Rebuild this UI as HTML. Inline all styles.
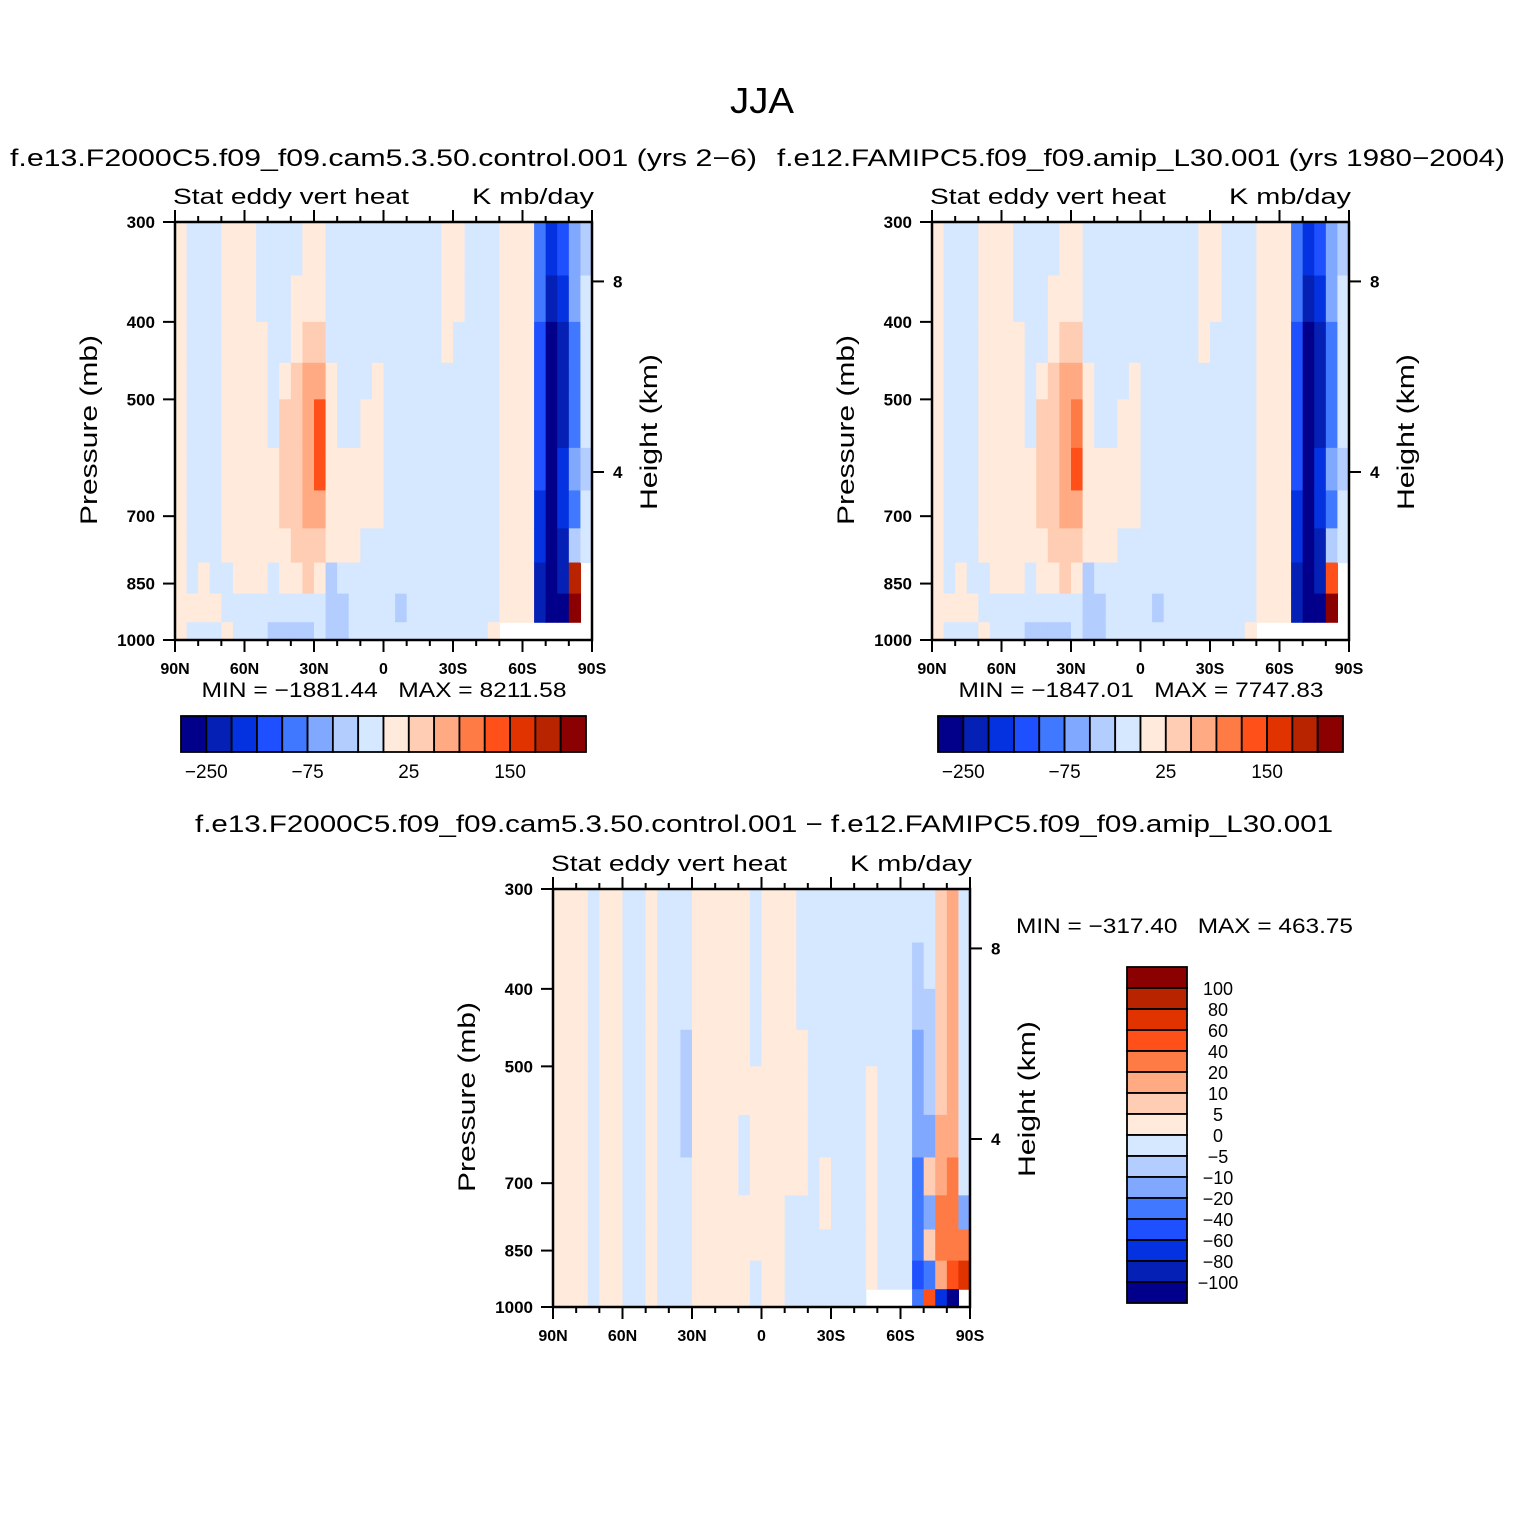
<!DOCTYPE html>
<html><head><meta charset="utf-8"><style>
html,body{margin:0;padding:0;background:#fff;}
svg{display:block;font-family:"Liberation Sans",sans-serif;}
</style></head><body>
<svg id="fig" width="1524" height="1524" viewBox="0 0 1524 1524" xmlns="http://www.w3.org/2000/svg">
<rect width="1524" height="1524" fill="#fff"/>
<text x="762" y="113" font-size="36" text-anchor="middle" textLength="64" lengthAdjust="spacingAndGlyphs">JJA</text>
<text x="10" y="166" font-size="24" textLength="747" lengthAdjust="spacingAndGlyphs">f.e13.F2000C5.f09_f09.cam5.3.50.control.001 (yrs 2−6)</text>
<text x="777" y="166" font-size="24" textLength="728" lengthAdjust="spacingAndGlyphs">f.e12.FAMIPC5.f09_f09.amip_L30.001 (yrs 1980−2004)</text>
<text x="195" y="832" font-size="24" textLength="1138" lengthAdjust="spacingAndGlyphs">f.e13.F2000C5.f09_f09.cam5.3.50.control.001 − f.e12.FAMIPC5.f09_f09.amip_L30.001</text>
<g id="panels"></g>
</svg>
<script>
const colors=['#02008a','#0520b5','#0532e0','#1e50ff','#4078ff','#80a8ff','#b3cdff','#d6e8ff','#ffeadb','#ffcdb3','#ffaa82','#ff7b45','#ff5019','#e03300','#b82300','#8b0000'];
const levelsTop=[-250,-200,-150,-100,-75,-50,-25,0,25,50,75,100,150,200,250];
const levelsDiff=[-100,-80,-60,-40,-20,-10,-5,0,5,10,20,40,60,80,100];
const barLabelsTop=['−250','−75','25','150'];
const barLabelEdges=[1,5,9,13];
const latTicks=[90,60,30,0,-30,-60,-90];
const latTickLabels=['90N','60N','30N','0','30S','60S','90S'];
const pressureTicks=[300,400,500,700,850,1000];
const heightTicks=[8,4];
const rowEdges=[300,350,400,450,500,575,650,725,800,875,950,1000];
const colLats=[90,85,80,75,70,65,60,55,50,45,40,35,30,25,20,15,10,5,0,-5,-10,-15,-20,-25,-30,-35,-40,-45,-50,-55,-60,-65,-70,-75,-80,-85,-90];
const N=NaN;
const fieldA=[
[10,10,10,10,10,10,10,10,10,10,10],
[-10,-10,-10,-10,-10,-10,-10,-10,-10,10,-10],
[-10,-10,-10,-10,-10,-10,-10,-10,10,10,-10],
[-10,-10,-10,-10,-10,-10,-10,-10,-10,10,-10],
[10,10,10,10,10,10,10,10,-10,-10,10],
[10,10,10,10,10,10,10,10,10,-10,-10],
[10,10,10,10,10,10,10,10,10,-10,-10],
[-10,-10,10,10,10,10,10,10,10,-10,-10],
[-10,-10,-10,-10,-10,10,10,10,-10,-10,-40],
[-10,-10,-10,10,40,40,40,10,10,-10,-40],
[-10,10,10,40,40,40,40,40,10,-10,-40],
[10,10,40,60,60,60,60,40,40,-10,-40],
[10,10,40,60,120,120,60,40,10,-10,-10],
[-10,-10,-10,10,10,10,10,10,-40,-40,-40],
[-10,-10,-10,-10,-10,10,10,10,-10,-40,-40],
[-10,-10,-10,-10,-10,10,10,10,-10,-10,-10],
[-10,-10,-10,-10,10,10,10,-10,-10,-10,-10],
[-10,-10,-10,10,10,10,10,-10,-10,-10,-10],
[-10,-10,-10,-10,-10,-10,-10,-10,-10,-10,-10],
[-10,-10,-10,-10,-10,-10,-10,-10,-10,-40,-10],
[-10,-10,-10,-10,-10,-10,-10,-10,-10,-10,-10],
[-10,-10,-10,-10,-10,-10,-10,-10,-10,-10,-10],
[-10,-10,-10,-10,-10,-10,-10,-10,-10,-10,-10],
[10,10,10,-10,-10,-10,-10,-10,-10,-10,-10],
[10,10,-10,-10,-10,-10,-10,-10,-10,-10,-10],
[-10,-10,-10,-10,-10,-10,-10,-10,-10,-10,-10],
[-10,-10,-10,-10,-10,-10,-10,-10,-10,-10,-10],
[-10,-10,-10,-10,-10,-10,-10,-10,-10,-10,10],
[10,10,10,10,10,10,10,10,10,10,N],
[10,10,10,10,10,10,10,10,10,10,N],
[10,10,10,10,10,10,10,10,10,10,N],
[-90,-90,-120,-120,-120,-120,-170,-170,-220,-220,N],
[-170,-220,-300,-300,-300,-300,-300,-300,-300,-300,N],
[-120,-170,-220,-220,-220,-170,-170,-220,-220,-300,N],
[-60,-60,-90,-90,-90,-60,-90,-40,220,300,N],
[-40,-10,-10,-10,-10,-40,-10,-10,N,N,N]];
const fieldB=[
[10,10,10,10,10,10,10,10,10,10,10],
[-10,-10,-10,-10,-10,-10,-10,-10,-10,10,-10],
[-10,-10,-10,-10,-10,-10,-10,-10,10,10,-10],
[-10,-10,-10,-10,-10,-10,-10,-10,-10,10,-10],
[10,10,10,10,10,10,10,10,-10,-10,10],
[10,10,10,10,10,10,10,10,10,-10,-10],
[10,10,10,10,10,10,10,10,10,-10,-10],
[-10,-10,10,10,10,10,10,10,10,-10,-10],
[-10,-10,-10,-10,-10,10,10,10,-10,-10,-40],
[-10,-10,-10,10,40,40,40,10,10,-10,-40],
[-10,10,10,40,40,40,40,40,10,-10,-40],
[10,10,40,60,60,60,60,40,40,-10,-40],
[10,10,40,60,90,120,60,40,10,-10,-10],
[-10,-10,-10,10,10,10,10,10,-40,-40,-40],
[-10,-10,-10,-10,-10,10,10,10,-10,-40,-40],
[-10,-10,-10,-10,-10,10,10,10,-10,-10,-10],
[-10,-10,-10,-10,10,10,10,-10,-10,-10,-10],
[-10,-10,-10,10,10,10,10,-10,-10,-10,-10],
[-10,-10,-10,-10,-10,-10,-10,-10,-10,-10,-10],
[-10,-10,-10,-10,-10,-10,-10,-10,-10,-40,-10],
[-10,-10,-10,-10,-10,-10,-10,-10,-10,-10,-10],
[-10,-10,-10,-10,-10,-10,-10,-10,-10,-10,-10],
[-10,-10,-10,-10,-10,-10,-10,-10,-10,-10,-10],
[10,10,10,-10,-10,-10,-10,-10,-10,-10,-10],
[10,10,-10,-10,-10,-10,-10,-10,-10,-10,-10],
[-10,-10,-10,-10,-10,-10,-10,-10,-10,-10,-10],
[-10,-10,-10,-10,-10,-10,-10,-10,-10,-10,-10],
[-10,-10,-10,-10,-10,-10,-10,-10,-10,-10,10],
[10,10,10,10,10,10,10,10,10,10,N],
[10,10,10,10,10,10,10,10,10,10,N],
[10,10,10,10,10,10,10,10,10,10,N],
[-90,-90,-120,-120,-120,-120,-170,-170,-220,-220,N],
[-170,-220,-300,-300,-300,-300,-300,-300,-300,-300,N],
[-120,-170,-220,-220,-220,-170,-170,-220,-220,-300,N],
[-60,-60,-90,-90,-90,-60,-90,-40,120,300,N],
[-40,-10,-10,-10,-10,-40,-10,-10,N,N,N]];
const fieldC=[
[2,2,2,2,2,2,2,2,2,2,2],
[2,2,2,2,2,2,2,2,2,2,2],
[2,2,2,2,2,2,2,2,2,2,2],
[-2,-2,-2,-2,-2,-2,-2,-2,-2,-2,-2],
[2,2,2,2,2,2,2,2,2,2,2],
[2,2,2,2,2,2,2,2,2,2,2],
[-2,-2,-2,-2,-2,-2,-2,-2,-2,-2,-2],
[-2,-2,-2,-2,-2,-2,-2,-2,-2,-2,-2],
[2,2,2,2,2,2,2,2,2,2,2],
[-2,-2,-2,-2,-2,-2,-2,-2,-2,-2,-2],
[-2,-2,-2,-2,-2,-2,-2,-2,-2,-2,-2],
[-2,-2,-2,-7,-7,-7,-2,-2,-2,-2,-2],
[2,2,2,2,2,2,2,2,2,2,2],
[2,2,2,2,2,2,2,2,2,2,2],
[2,2,2,2,2,2,2,2,2,2,2],
[2,2,2,2,2,2,2,2,2,2,2],
[2,2,2,2,2,-2,-2,2,2,2,2],
[-2,-2,-2,-2,2,2,2,2,2,-2,-2],
[2,2,2,2,2,2,2,2,2,2,2],
[2,2,2,2,2,2,2,2,2,2,2],
[2,2,2,2,2,2,2,-2,-2,-2,-2],
[-2,-2,-2,2,2,2,2,-2,-2,-2,-2],
[-2,-2,-2,-2,-2,-2,-2,-2,-2,-2,-2],
[-2,-2,-2,-2,-2,-2,2,2,-2,-2,-2],
[-2,-2,-2,-2,-2,-2,-2,-2,-2,-2,-2],
[-2,-2,-2,-2,-2,-2,-2,-2,-2,-2,-2],
[-2,-2,-2,-2,-2,-2,-2,-2,-2,-2,-2],
[-2,-2,-2,-2,2,2,2,2,2,2,N],
[-2,-2,-2,-2,-2,-2,-2,-2,-2,-2,N],
[-2,-2,-2,-2,-2,-2,-2,-2,-2,-2,N],
[-2,-2,-2,-2,-2,-2,-2,-2,-2,-2,N],
[-2,-7,-7,-15,-15,-15,-30,-30,-30,-50,-30],
[-2,-2,-7,-7,-7,-15,7,-15,7,-30,50],
[7,7,7,7,7,15,15,30,30,15,-80],
[15,15,15,15,15,15,30,30,30,50,-120],
[-2,-2,-2,-2,-2,-2,-2,-15,30,70,N]];

const NS='http://www.w3.org/2000/svg';
const root=document.getElementById('panels');
const W=417,H=418;
function mk(tag,attrs,parent){const e=document.createElementNS(NS,tag);for(const k in attrs)e.setAttribute(k,attrs[k]);(parent||root).appendChild(e);return e;}
function xOf(ox,lat){return ox+(90-lat)/180*W;}
function yOf(oy,p){return oy+Math.log(p/300)/Math.log(1000/300)*H;}
function pOfZ(z){return 1013.25*Math.pow(1-2.25577e-5*z*1000,5.25588);}
function cls(v,levels){let c=0;for(const l of levels){if(v>=l)c++;}return c;}

function drawPanel(ox,oy,field,levels,tag){
  const g=mk('g',{});
  
  
  for(let i=0;i<field.length;i++){
    const x0=xOf(ox,colLats[i]),x1=xOf(ox,colLats[i+1]);
    for(let r=0;r<field[i].length;r++){
      const v=field[i][r];if(isNaN(v))continue;
      const y0=yOf(oy,rowEdges[r]),y1=yOf(oy,rowEdges[r+1]);
      const c=mk('rect',{x:x0,y:y0,width:x1-x0+0.6,height:y1-y0+0.6,fill:colors[cls(v,levels)]},g);
      
      
    }
  }
  const fr=mk('rect',{x:ox,y:oy,width:W,height:H,fill:'none',stroke:'#000','stroke-width':2.5});
  
  
  for(let lat=90;lat>=-90;lat-=10){
    const x=xOf(ox,lat),major=lat%30===0,len=major?12:6;
    mk('line',{x1:x,x2:x,y1:oy,y2:oy-len,stroke:'#000','stroke-width':2});
    mk('line',{x1:x,x2:x,y1:oy+H,y2:oy+H+len,stroke:'#000','stroke-width':2});
  }
  latTicks.forEach((lat,i)=>{
    const t=mk('text',{x:xOf(ox,lat),y:oy+H+34,'font-size':16,'font-weight':'bold','text-anchor':'middle'});
    t.textContent=latTickLabels[i];
    
    
  });
  pressureTicks.forEach(p=>{
    const y=yOf(oy,p);
    mk('line',{x1:ox,x2:ox-12,y1:y,y2:y,stroke:'#000','stroke-width':2});
    const t=mk('text',{x:ox-20,y:y+6,'font-size':17,'font-weight':'bold','text-anchor':'end'});
    t.textContent=String(p);
    
    
  });
  heightTicks.forEach(z=>{
    const y=yOf(oy,pOfZ(z));
    mk('line',{x1:ox+W,x2:ox+W+12,y1:y,y2:y,stroke:'#000','stroke-width':2});
    const t=mk('text',{x:ox+W+21,y:y+6,'font-size':17,'font-weight':'bold'});
    t.textContent=String(z);
    
    
  });
  const a=mk('text',{x:ox-2,y:oy-18,'font-size':22,textLength:236,lengthAdjust:'spacingAndGlyphs'});
  a.textContent='Stat eddy vert heat';
  
  
  const u=mk('text',{x:ox+W+2,y:oy-18,'font-size':22,'text-anchor':'end',textLength:122,lengthAdjust:'spacingAndGlyphs'});
  u.textContent='K mb/day';
  
  
  const yl=mk('text',{x:0,y:0,'font-size':24,'text-anchor':'middle',transform:`translate(${ox-78},${oy+208}) rotate(-90)`,textLength:190,lengthAdjust:'spacingAndGlyphs'});
  yl.textContent='Pressure (mb)';
  
  
  const yr=mk('text',{x:0,y:0,'font-size':24,'text-anchor':'middle',transform:`translate(${ox+W+65},${oy+210}) rotate(-90)`,textLength:156,lengthAdjust:'spacingAndGlyphs'});
  yr.textContent='Height (km)';
  
  
}

function drawHBar(ox,oy,minmax,tag){
  const t=mk('text',{x:ox+203,y:oy-19,'font-size':21,'text-anchor':'middle',textLength:365,lengthAdjust:'spacingAndGlyphs'});
  t.textContent=minmax;
  
  
  const bw=405/16;
  colors.forEach((c,i)=>{
    const r=mk('rect',{x:ox+i*bw,y:oy,width:bw,height:36,fill:c,stroke:'#000','stroke-width':1.8});
    
    
  });
  barLabelsTop.forEach((l,i)=>{
    const tx=mk('text',{x:ox+barLabelEdges[i]*bw,y:oy+62,'font-size':19,'text-anchor':'middle'});
    tx.textContent=l;
    
    
  });
}

drawPanel(175,222,fieldA,levelsTop,'control');
drawHBar(181,716,'MIN = −1881.44\u00a0\u00a0\u00a0MAX = 8211.58','control');
drawPanel(932,222,fieldB,levelsTop,'amip');
drawHBar(938,716,'MIN = −1847.01\u00a0\u00a0\u00a0MAX = 7747.83','amip');
drawPanel(553,889,fieldC,levelsDiff,'difference');

const mm=mk('text',{x:1016,y:933,'font-size':21,textLength:337,lengthAdjust:'spacingAndGlyphs'});
mm.textContent='MIN = −317.40\u00a0\u00a0\u00a0MAX = 463.75';


for(let i=0;i<16;i++){
  const r=mk('rect',{x:1127,y:967+i*21,width:60,height:21,fill:colors[15-i],stroke:'#000','stroke-width':1.8});
  
  
}
for(let i=1;i<=15;i++){
  const v=levelsDiff[15-i];
  const t=mk('text',{x:1218,y:967+i*21+7,'font-size':18,'text-anchor':'middle'});
  t.textContent=(v<0?'−':'')+Math.abs(v);
  
  
}
</script>
</body></html>
